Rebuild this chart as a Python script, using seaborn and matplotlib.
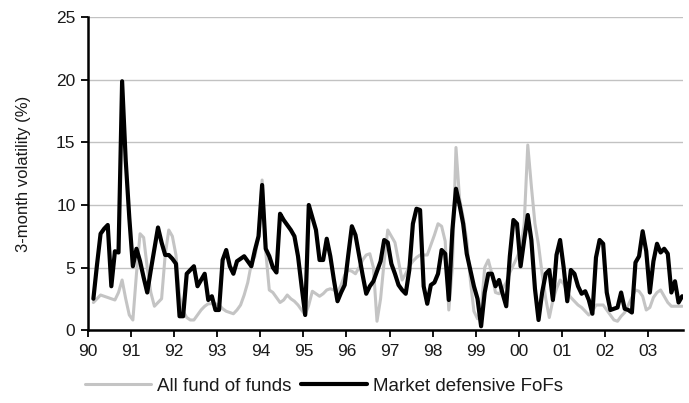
import numpy as np
import pandas as pd
import matplotlib
matplotlib.use("Agg")
import matplotlib.pyplot as plt
import seaborn as sns

# Monthly 3-month volatility (%), Feb 1990 .. Oct 2003
market_defensive = [
    2.5, 5.2, 7.7, 8.1, 8.4, 3.5, 6.3, 6.2, 19.9, 13.6, 9.0, 5.1,
    6.5, 5.5, 4.2, 3.0, 4.8, 6.5, 8.2, 7.0, 6.0, 6.0, 5.7, 5.3,
    1.1, 1.1, 4.5, 4.8, 5.1, 3.5, 4.0, 4.5, 2.4, 2.7, 1.6, 1.6,
    5.6, 6.4, 5.1, 4.5, 5.5, 5.7, 5.9, 5.5, 5.1, 6.4, 7.5, 11.6,
    6.5, 5.9, 5.0, 4.6, 9.3, 8.8, 8.4, 8.0, 7.5, 5.9, 3.5, 1.2,
    10.0, 9.0, 8.0, 5.6, 5.6, 7.3, 5.9, 4.0, 2.3, 3.0, 3.6, 6.0,
    8.3, 7.6, 6.0, 4.4, 2.9, 3.5, 3.9, 4.7, 5.5, 7.2, 7.0, 5.3,
    4.5, 3.6, 3.2, 2.9, 4.8, 8.5, 9.7, 9.6, 3.5, 2.1, 3.6, 3.8,
    4.5, 6.4, 6.1, 2.4, 8.0, 11.3, 10.0, 8.5, 6.1, 4.8, 3.5, 2.5,
    0.3, 3.0, 4.5, 4.5, 3.5, 4.0, 2.9, 1.9, 5.9, 8.8, 8.5, 5.1,
    7.2, 9.2, 7.2, 3.3, 0.8, 3.0, 4.5, 4.8, 2.4, 6.0, 7.2, 5.0,
    2.3, 4.8, 4.5, 3.5, 2.9, 3.1, 2.4, 1.3, 5.8, 7.2, 6.9, 3.0,
    1.6, 1.7, 1.8, 3.0, 1.7, 1.6, 1.4, 5.4, 5.9, 7.9, 6.3, 3.0,
    5.5, 6.9, 6.2, 6.5, 6.1, 3.0, 3.9, 2.2, 2.7,
]

all_fof = [
    2.2, 2.5, 2.8, 2.7, 2.6, 2.5, 2.4, 3.0, 4.0, 2.5, 1.2, 0.8,
    4.5, 7.7, 7.4, 5.0, 3.0, 1.9, 2.2, 2.5, 6.0, 8.0, 7.5, 6.0,
    2.7, 1.5, 1.0, 0.8, 0.8, 1.2, 1.6, 1.9, 2.1, 2.1, 2.1, 2.0,
    1.7, 1.5, 1.4, 1.3, 1.6, 2.0, 2.8, 3.8, 5.3, 5.9, 7.5, 12.0,
    6.3, 3.2, 3.0, 2.6, 2.2, 2.4, 2.8, 2.5, 2.3, 2.0, 1.6, 1.2,
    2.0, 3.1, 2.9, 2.7, 2.9, 3.2, 3.3, 3.2, 3.0, 3.6, 4.4, 4.8,
    4.7, 4.5, 5.0, 5.6, 6.0, 6.1, 5.0, 0.7, 2.5, 5.5, 8.0, 7.5,
    7.0, 5.5, 4.0, 4.5, 5.1, 5.5, 5.8, 6.0, 6.0, 6.0, 6.8, 7.6,
    8.5, 8.3, 7.1, 1.6, 5.0, 14.6, 10.5, 9.0, 7.2, 4.0, 1.5, 0.9,
    1.5, 5.0, 5.6, 4.5, 3.0, 2.9, 3.3, 3.8, 4.6, 5.2, 5.8, 6.5,
    8.5, 14.8, 11.5, 8.5, 6.8, 4.5, 2.5, 1.0, 2.4, 3.3, 4.0, 3.7,
    3.0, 2.6, 2.3, 2.0, 1.8, 1.5, 1.2, 1.5, 2.0, 2.0, 2.0, 1.6,
    1.2, 0.8, 0.7, 1.1, 1.4, 2.0, 2.6, 3.2, 3.1, 2.7, 1.6, 1.8,
    2.6, 3.0, 3.2, 2.7, 2.2, 1.9, 1.9, 1.9, 1.9,
]

series_names = ["All fund of funds", "Market defensive FoFs"]
year_ticks = list(range(1990, 2004))
year_labels = ["90", "91", "92", "93", "94", "95", "96", "97", "98", "99",
               "00", "01", "02", "03"]
y_ticks = [0, 5, 10, 15, 20, 25]

n = len(market_defensive)
t = 1990 + (np.arange(1, n + 1) + 0.5) / 12.0

df = pd.DataFrame({
    "t": np.concatenate([t, t]),
    "vol": np.concatenate([all_fof, market_defensive]),
    "series": [series_names[0]] * n + [series_names[1]] * n,
})

sns.set_style("white")
plt.rcParams["font.family"] = ["Liberation Sans Narrow", "Liberation Sans", "DejaVu Sans"]

fig = plt.figure(figsize=(6.89, 4.03), dpi=100)
ax = fig.add_axes([88 / 689, 1 - 330 / 403, (683 - 88) / 689, (330 - 17.5) / 403])

sns.lineplot(data=df, x="t", y="vol", hue="series", hue_order=series_names,
             palette={series_names[0]: "#c4c4c4", series_names[1]: "#000000"},
             ax=ax, legend=False, estimator=None, sort=False)
lines = ax.get_lines()
lines[0].set_linewidth(2.2)
lines[1].set_linewidth(3.0)
lines[1].set_zorder(3)
for ln in lines:
    ln.set_solid_joinstyle("round")

ax.set_xlim(1990, 1990 + 595 / 43.08)
ax.set_ylim(0, 25)
ax.set_yticks(y_ticks)
ax.set_yticklabels([str(v) for v in y_ticks])
ax.set_xticks(year_ticks)
ax.set_xticklabels(year_labels)
ax.yaxis.grid(True, color="#c2c2c2", linewidth=1.0)
ax.xaxis.grid(False)
ax.set_axisbelow(True)

for s in ["top", "right"]:
    ax.spines[s].set_visible(False)
for s in ["left", "bottom"]:
    ax.spines[s].set_color("black")
    ax.spines[s].set_linewidth(1.8)

ax.tick_params(axis="both", which="major", direction="out", length=5, width=1.3,
               color="black", labelsize=12.5, labelcolor="#1a1a1a", left=True, bottom=True)
ax.tick_params(axis="x", pad=5)
ax.tick_params(axis="y", pad=4)
ax.set_xlabel("")
ax.set_ylabel("3-month volatility (%)", fontsize=12, color="#1a1a1a", labelpad=18)

fig.legend(handles=[lines[0], lines[1]], labels=series_names, loc="center",
           bbox_to_anchor=(324 / 689, 1 - 386 / 403), ncol=2, frameon=False,
           fontsize=13.5, handlelength=3.5, handletextpad=0.35, columnspacing=0.5,
           labelcolor="#1a1a1a")

fig.savefig("out.png", dpi=100, facecolor="white")
